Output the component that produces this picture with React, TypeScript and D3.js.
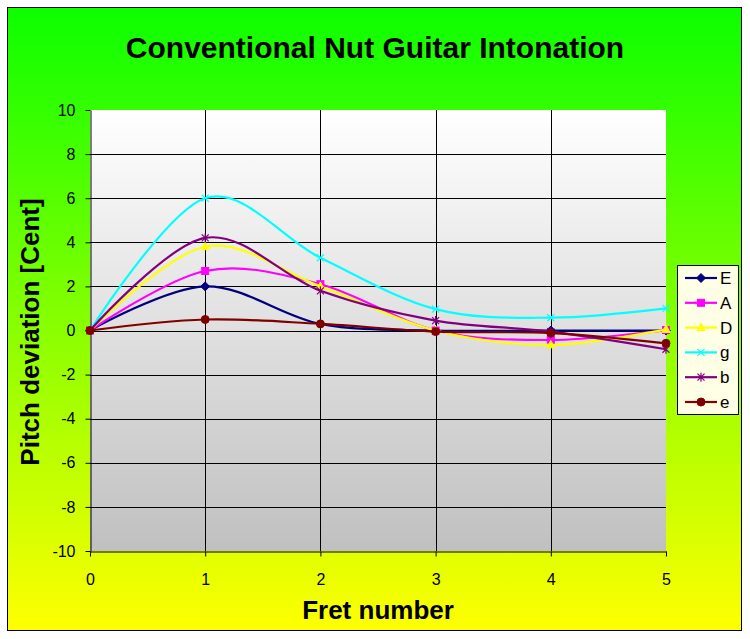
import React, { useEffect, useRef } from 'react';
import * as d3 from 'd3';

// fret positions on the x axis
const frets = [0, 1, 2, 3, 4, 5];

// pitch deviation in cents, one list per string
const stringE = [0, 2.0, 0.3, 0.0, 0.0, 0.0];
const stringA = [0, 2.7, 2.1, 0.0, -0.43, 0.02];
const stringD = [0, 3.8, 2.0, 0.0, -0.65, 0.05];
const stringG = [0, 6.0, 3.3, 0.97, 0.58, 1.0];
const stringB = [0, 4.2, 1.8, 0.45, -0.05, -0.85];
const stringHighE = [0, 0.5, 0.3, -0.05, -0.12, -0.58];

const seriesNames = ['E', 'A', 'D', 'g', 'b', 'e'];
const seriesValues = [stringE, stringA, stringD, stringG, stringB, stringHighE];
const seriesColors = ['#000080', '#ff00ff', '#ffff00', '#00ffff', '#800080', '#800000'];
const seriesMarkers = ['diamond', 'square', 'triangle', 'x', 'star', 'circle'];

const yTicks = [-10, -8, -6, -4, -2, 0, 2, 4, 6, 8, 10];

const FONT = "'Liberation Sans', Arial, sans-serif";

const App: React.FC = () => {
    const svgRef = useRef<SVGSVGElement>(null);

    useEffect(() => {
        if (!svgRef.current) return;
        const svg = d3.select(svgRef.current);
        svg.selectAll('*').remove();

        const plot = { left: 90, right: 666, top: 110, bottom: 551 };

        const x = d3.scaleLinear().domain([0, 5]).range([plot.left, plot.right]);
        const y = d3.scaleLinear().domain([-10, 10]).range([plot.bottom, plot.top]);

        const defs = svg.append('defs');
        const bg = defs.append('linearGradient').attr('id', 'bg')
            .attr('x1', 0).attr('y1', 0).attr('x2', 0).attr('y2', 1);
        bg.append('stop').attr('offset', '0%').attr('stop-color', '#0cff00');
        bg.append('stop').attr('offset', '100%').attr('stop-color', '#ffff00');

        const pg = defs.append('linearGradient').attr('id', 'plotbg')
            .attr('x1', 0).attr('y1', 0).attr('x2', 0).attr('y2', 1);
        pg.append('stop').attr('offset', '0%').attr('stop-color', '#ffffff');
        pg.append('stop').attr('offset', '100%').attr('stop-color', '#c0c0c0');

        // chart frame
        svg.append('rect')
            .attr('x', 7.5).attr('y', 7.5).attr('width', 734).attr('height', 623)
            .attr('fill', 'url(#bg)').attr('stroke', '#000').attr('stroke-width', 1);

        // plot area
        svg.append('rect')
            .attr('x', plot.left).attr('y', plot.top)
            .attr('width', plot.right - plot.left).attr('height', plot.bottom - plot.top)
            .attr('fill', 'url(#plotbg)');

        // grid
        const grid = svg.append('g').attr('stroke', '#000').attr('stroke-width', 1);
        grid.selectAll('line.h').data(yTicks.filter(t => t > -10 && t < 10)).enter().append('line')
            .attr('x1', plot.left).attr('x2', plot.right)
            .attr('y1', d => Math.round(y(d)) + 0.5).attr('y2', d => Math.round(y(d)) + 0.5);
        grid.selectAll('line.v').data(frets.filter(f => f > 0 && f < 5)).enter().append('line')
            .attr('y1', plot.top).attr('y2', plot.bottom)
            .attr('x1', d => Math.round(x(d)) + 0.5).attr('x2', d => Math.round(x(d)) + 0.5);

        // axes (plain hyphen for negatives, like the original)
        const fmt = (d: any) => String(d);
        const yAxis = svg.append('g')
            .attr('transform', `translate(${plot.left + 0.5},0)`)
            .call(d3.axisLeft(y).tickValues(yTicks).tickFormat(fmt).tickSize(5).tickSizeOuter(0));
        yAxis.select('.domain').attr('stroke', '#000');
        yAxis.selectAll('text').attr('font-family', FONT).attr('font-size', 16)
            .attr('fill', '#000').attr('x', -15);

        const xAxis = svg.append('g')
            .attr('transform', `translate(0,${plot.bottom + 0.5})`)
            .call(d3.axisBottom(x).tickValues(frets).tickFormat(fmt).tickSize(5).tickSizeOuter(0));
        xAxis.select('.domain').attr('stroke', '#000');
        xAxis.selectAll('text').attr('font-family', FONT).attr('font-size', 16)
            .attr('fill', '#000').attr('y', 22);

        // series
        const line = d3.line<number>()
            .x((_, i) => x(frets[i]))
            .y(d => y(d))
            .curve(d3.curveCardinal.tension(0));

        const drawMarker = (g: any, kind: string, color: string, cx: number, cy: number) => {
            if (kind === 'diamond') {
                g.append('path').attr('d', `M${cx},${cy - 4.5}L${cx + 4.5},${cy}L${cx},${cy + 4.5}L${cx - 4.5},${cy}Z`)
                    .attr('fill', color).attr('stroke', color);
            } else if (kind === 'square') {
                g.append('rect').attr('x', cx - 3.5).attr('y', cy - 3.5).attr('width', 7).attr('height', 7)
                    .attr('fill', color).attr('stroke', color);
            } else if (kind === 'triangle') {
                g.append('path').attr('d', `M${cx},${cy - 4.5}L${cx + 4},${cy + 3}L${cx - 4},${cy + 3}Z`)
                    .attr('fill', color).attr('stroke', color);
            } else if (kind === 'x') {
                g.append('path').attr('d', `M${cx - 3.5},${cy - 3.5}L${cx + 3.5},${cy + 3.5}M${cx - 3.5},${cy + 3.5}L${cx + 3.5},${cy - 3.5}`)
                    .attr('fill', 'none').attr('stroke', color).attr('stroke-width', 1.2);
            } else if (kind === 'star') {
                g.append('path').attr('d', `M${cx - 3.5},${cy - 3.5}L${cx + 3.5},${cy + 3.5}M${cx - 3.5},${cy + 3.5}L${cx + 3.5},${cy - 3.5}M${cx},${cy - 4.5}L${cx},${cy + 4.5}`)
                    .attr('fill', 'none').attr('stroke', color).attr('stroke-width', 1.2);
            } else {
                g.append('circle').attr('cx', cx).attr('cy', cy).attr('r', 4)
                    .attr('fill', color).attr('stroke', color);
            }
        };

        seriesValues.forEach((vals, si) => {
            const color = seriesColors[si];
            const g = svg.append('g');
            g.append('path').attr('d', line(vals))
                .attr('fill', 'none').attr('stroke', color).attr('stroke-width', 2.2);
            vals.forEach((v, i) => drawMarker(g, seriesMarkers[si], color, x(frets[i]), y(v)));
        });

        // legend
        const legend = svg.append('g');
        legend.append('rect')
            .attr('x', 677.5).attr('y', 265.5).attr('width', 61).attr('height', 149)
            .attr('fill', '#ffffe6').attr('stroke', '#000').attr('stroke-width', 1);
        seriesNames.forEach((name, si) => {
            const ly = 278 + si * 24.8;
            const color = seriesColors[si];
            legend.append('line').attr('x1', 685).attr('x2', 717).attr('y1', ly).attr('y2', ly)
                .attr('stroke', color).attr('stroke-width', 2.2);
            drawMarker(legend, seriesMarkers[si], color, 701, ly);
            legend.append('text').attr('x', 720).attr('y', ly + 6)
                .attr('font-family', FONT).attr('font-size', 17).attr('fill', '#000').text(name);
        });

        // titles
        svg.append('text').attr('x', 375).attr('y', 58).attr('text-anchor', 'middle')
            .attr('font-family', FONT).attr('font-size', 30).attr('font-weight', 'bold')
            .text('Conventional Nut Guitar Intonation');
        svg.append('text').attr('x', 378).attr('y', 619).attr('text-anchor', 'middle')
            .attr('font-family', FONT).attr('font-size', 26).attr('font-weight', 'bold')
            .text('Fret number');
        svg.append('text').attr('transform', 'translate(39,332) rotate(-90)').attr('text-anchor', 'middle')
            .attr('font-family', FONT).attr('font-size', 26).attr('font-weight', 'bold')
            .text('Pitch deviation [Cent]');
    }, []);

    return (
        <div style={{ position: 'absolute', left: 0, top: 0 }}>
            <svg ref={svgRef} width={750} height={639} style={{ display: 'block', background: '#fff' }}></svg>
        </div>
    );
};

export default App;
